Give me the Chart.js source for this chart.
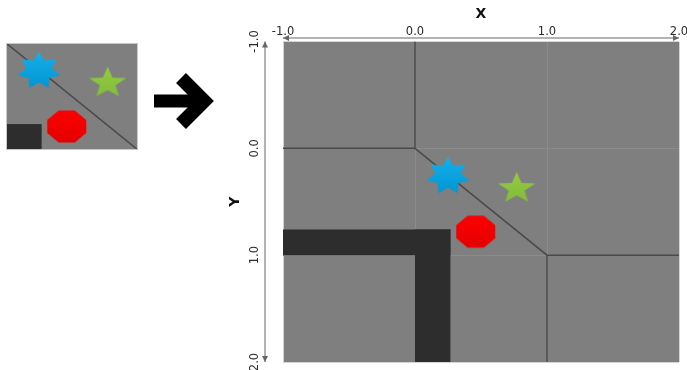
<!DOCTYPE html>
<html>
<head>
<meta charset="utf-8">
<script src="https://cdn.jsdelivr.net/npm/chart.js@4/dist/chart.umd.min.js"></script>
<style>
  html, body { margin: 0; padding: 0; background: #fff; overflow: hidden; }
  #wrap { position: relative; width: 687px; height: 370px; }
  #main { position: absolute; left: 0; top: 0; }
  #thumb { position: absolute; left: 6px; top: 43px; }
  #arrow { position: absolute; left: 0; top: 0; }
</style>
</head>
<body>
<div id="wrap">
  <canvas id="main" width="687" height="370"></canvas>
  <canvas id="thumb" width="132" height="107"></canvas>
  <svg id="arrow" width="230" height="160">
    <line x1="154" y1="101" x2="200" y2="101" stroke="#000" stroke-width="13"/>
    <polyline points="181,78 204,101 181,124" fill="none" stroke="#000" stroke-width="14" stroke-linejoin="miter"/>
  </svg>
</div>
<script>
// tick values shared by both axes
const tickValues = [-1, 0, 1, 2];
const xRange = [-1, 2];
const yRange = [-1, 2];
// the small picture on the left shows the unit square
const thumbRange = [0, 1];

// dark region, as two bars: [x0, x1, y0, y1]
const darkBars = [
  [-1, 0.27, 0.76, 1],
  [0, 0.27, 0.76, 2]
];

// dark boundary polylines
const boundaryLines = [
  [[0, -1], [0, 0], [-1, 0]],
  [[0, 0], [1, 1], [2, 1]],
  [[1, 1], [1, 2]]
];

// markers (x, y)
const blueStar = [0.25, 0.26];
const greenStar = [0.77, 0.375];
const redOctagon = [0.46, 0.78];

Chart.defaults.font.family = "'DejaVu Sans', sans-serif";

// draws a star / polygon into a small canvas used as a point style
function shapeCanvas(points, rx, ry, inner, rot, top, bottom) {
  const c = document.createElement('canvas');
  c.width = Math.ceil(rx * 2 + 2);
  c.height = Math.ceil(ry * 2 + 2);
  const g = c.getContext('2d');
  const cx = c.width / 2, cy = c.height / 2;
  const n = inner ? points * 2 : points;
  g.beginPath();
  for (let i = 0; i < n; i++) {
    const r = inner && i % 2 ? inner : 1;
    const a = rot + i * Math.PI * 2 / n;
    const px = cx + Math.sin(a) * rx * r;
    const py = cy - Math.cos(a) * ry * r;
    if (i) g.lineTo(px, py); else g.moveTo(px, py);
  }
  g.closePath();
  const grad = g.createLinearGradient(0, 0, 0, c.height);
  grad.addColorStop(0, top);
  grad.addColorStop(1, bottom);
  g.fillStyle = grad;
  g.fill();
  return c;
}

const blueImg = shapeCanvas(7, 22, 19, 0.6, 0, '#16b0ea', '#0094d2');
const greenImg = shapeCanvas(5, 19.6, 16.4, 0.42, 0, '#96ca44', '#7fbb38');
const redImg = shapeCanvas(8, 21.1, 17.3, 0, Math.PI / 8, '#ff0000', '#e20000');

function buildDatasets() {
  const sets = [];
  [[blueStar, blueImg], [greenStar, greenImg], [redOctagon, redImg]].forEach(([p, img]) => {
    sets.push({ data: [{ x: p[0], y: p[1] }], pointStyle: img, pointRadius: 10, order: 0 });
  });
  boundaryLines.forEach(line => {
    sets.push({
      data: line.map(([x, y]) => ({ x, y })),
      showLine: true, borderColor: '#4a4a4a', borderWidth: 1.5,
      pointRadius: 0, order: 1
    });
  });
  darkBars.forEach(([x0, x1, y0, y1]) => {
    sets.push({
      data: [{ x: x0, y: y0 }, { x: x1, y: y0 }],
      showLine: true, borderColor: 'rgba(0,0,0,0)', borderWidth: 1,
      pointRadius: 0, fill: { value: y1 }, backgroundColor: '#2d2d2d', order: 2
    });
  });
  return sets;
}

const plotBg = {
  id: 'plotBg',
  beforeDraw(chart, args, opts) {
    const { ctx, chartArea: a } = chart;
    ctx.save();
    ctx.fillStyle = opts.color;
    ctx.fillRect(a.left, a.top, a.width, a.height);
    ctx.restore();
  },
  afterDraw(chart, args, opts) {
    if (!opts.border) return;
    const { ctx, chartArea: a } = chart;
    ctx.save();
    ctx.strokeStyle = opts.border;
    ctx.lineWidth = 1;
    ctx.strokeRect(a.left + 0.5, a.top + 0.5, a.width - 1, a.height - 1);
    ctx.restore();
  }
};

function arrowHead(ctx, px, py, dx, dy) {
  const len = 6, w = 3;
  ctx.beginPath();
  ctx.moveTo(px, py);
  ctx.lineTo(px - dx * len - dy * w, py - dy * len + dx * w);
  ctx.lineTo(px - dx * len + dy * w, py - dy * len - dx * w);
  ctx.closePath();
  ctx.fill();
}

// axis lines with arrows, sitting just outside the plot area
const axisArrows = {
  id: 'axisArrows',
  afterDraw(chart) {
    const { ctx, scales: { x, y }, chartArea: a } = chart;
    const lineY = a.top - 3.5;
    const lineX = a.left - 18;
    const x0 = x.getPixelForValue(xRange[0]), x1 = x.getPixelForValue(xRange[1]);
    const y0 = y.getPixelForValue(yRange[0]), y1 = y.getPixelForValue(yRange[1]);
    ctx.save();
    ctx.strokeStyle = '#9a9a9a';
    ctx.fillStyle = '#666';
    ctx.lineWidth = 1.5;
    ctx.beginPath();
    ctx.moveTo(x0, lineY); ctx.lineTo(x1, lineY);
    ctx.moveTo(lineX, y0); ctx.lineTo(lineX, y1);
    ctx.stroke();
    arrowHead(ctx, x0, lineY, -1, 0);
    arrowHead(ctx, x1, lineY, 1, 0);
    arrowHead(ctx, lineX, y0, 0, -1);
    arrowHead(ctx, lineX, y1, 0, 1);
    ctx.restore();
  }
};

const gridColor = ctx => (ctx.tick && (ctx.tick.value === tickValues[0] || ctx.tick.value === tickValues[tickValues.length - 1]))
  ? '#d4d4d4' : '#8b8b8b';
const setTicks = s => { s.ticks = tickValues.map(v => ({ value: v })); };

new Chart(document.getElementById('main'), {
  type: 'scatter',
  data: { datasets: buildDatasets() },
  options: {
    responsive: false,
    animation: false,
    layout: { autoPadding: false, padding: { left: 220, right: 8, top: 0, bottom: 8 } },
    plugins: {
      legend: { display: false },
      tooltip: { enabled: false },
      plotBg: { color: '#7f7f7f' }
    },
    scales: {
      x: {
        type: 'linear', position: 'top', min: xRange[0], max: xRange[1],
        afterBuildTicks: setTicks,
        afterFit: s => { s.height = 41.5; s.paddingLeft = 0; s.paddingRight = 0; },
        ticks: { padding: 3, color: '#2a2a2a', font: { size: 11.5 }, maxRotation: 0, callback: v => v.toFixed(1) },
        grid: { drawTicks: false, color: gridColor },
        border: { display: false },
        title: { display: true, text: 'X', color: '#111', font: { size: 14, weight: 'bold' }, padding: { top: 6, bottom: 0 } }
      },
      y: {
        type: 'linear', position: 'left', reverse: true, min: yRange[0], max: yRange[1],
        afterBuildTicks: setTicks,
        afterFit: s => { s.width = 63; s.paddingTop = 0; s.paddingBottom = 0; },
        ticks: { padding: 17, crossAlign: 'center', minRotation: 90, maxRotation: 90, color: '#2a2a2a', font: { size: 11.5 }, callback: v => v.toFixed(1) },
        grid: { drawTicks: false, color: gridColor },
        border: { display: false },
        title: { display: true, text: 'Y', color: '#111', font: { size: 14, weight: 'bold' }, padding: { top: 6.6, bottom: 0 } }
      }
    }
  },
  plugins: [plotBg, axisArrows]
});

new Chart(document.getElementById('thumb'), {
  type: 'scatter',
  data: { datasets: buildDatasets() },
  options: {
    responsive: false,
    animation: false,
    layout: { autoPadding: false, padding: 0 },
    plugins: {
      legend: { display: false },
      tooltip: { enabled: false },
      plotBg: { color: '#7f7f7f', border: '#c8c8c8' }
    },
    scales: {
      x: { type: 'linear', display: false, min: thumbRange[0], max: thumbRange[1] },
      y: { type: 'linear', display: false, reverse: true, min: thumbRange[0], max: thumbRange[1] }
    }
  },
  plugins: [plotBg]
});
</script>
</body>
</html>
